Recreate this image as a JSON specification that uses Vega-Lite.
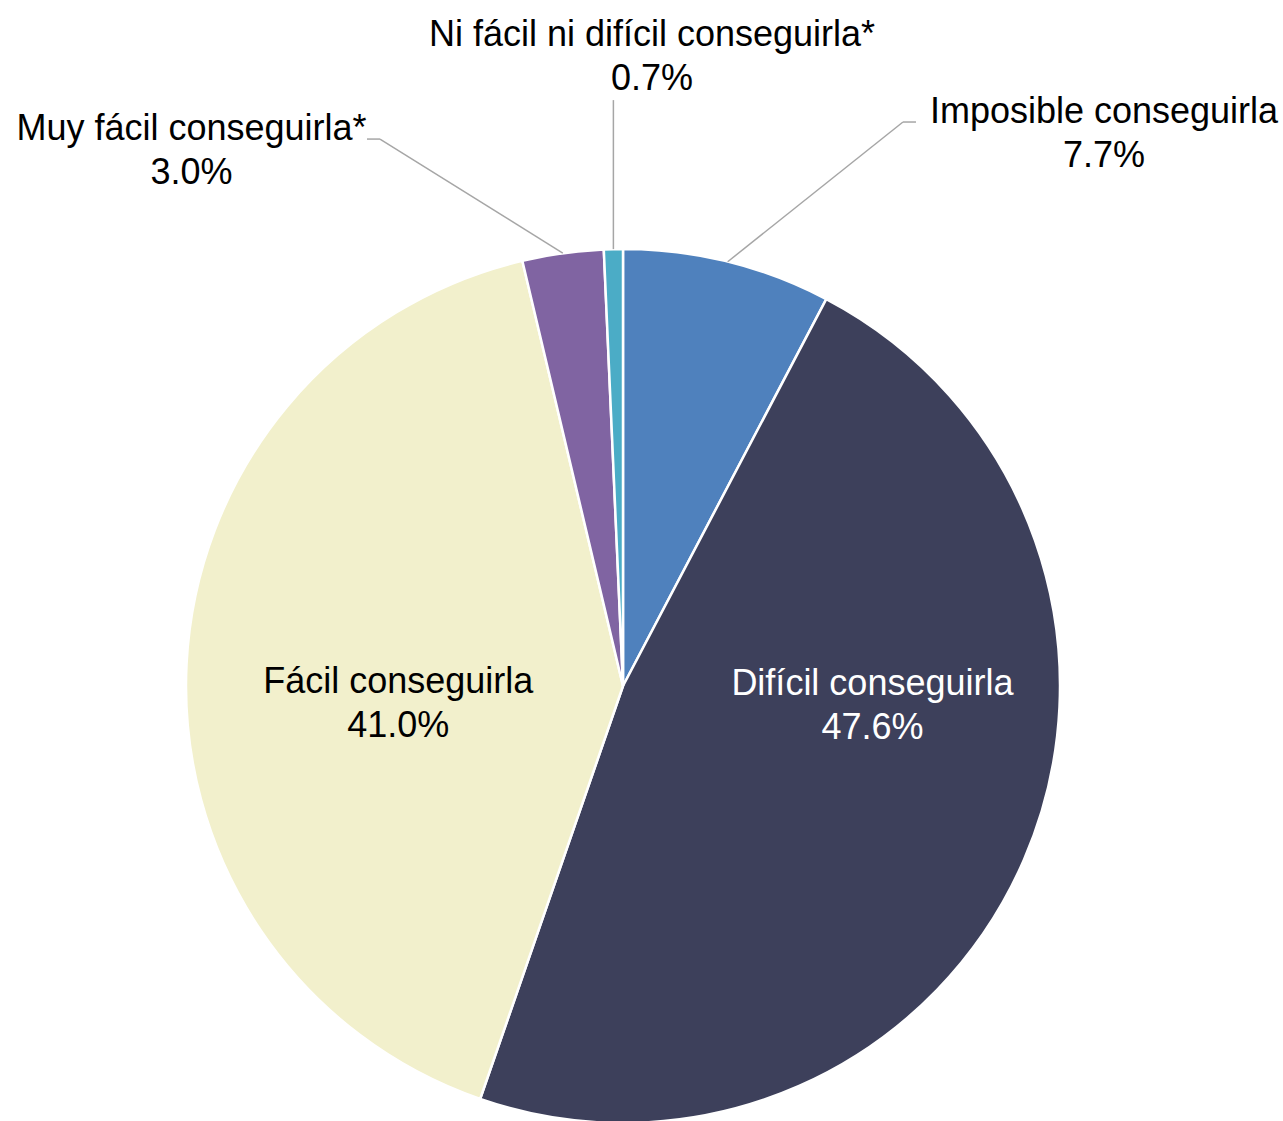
{
  "$schema": "https://vega.github.io/schema/vega-lite/v6.json",
  "width": 1246,
  "height": 870,
  "autosize": {"type": "none"},
  "padding": {"left": 0, "top": 251, "right": 37, "bottom": 0},
  "background": "white",
  "config": {"view": {"stroke": null}, "font": "Liberation Sans"},
  "data": {"values": [
    {"categoria": "Imposible conseguirla", "porcentaje": 7.7, "orden": 1},
    {"categoria": "Difícil conseguirla", "porcentaje": 47.6, "orden": 2},
    {"categoria": "Fácil conseguirla", "porcentaje": 41.0, "orden": 3},
    {"categoria": "Muy fácil conseguirla*", "porcentaje": 3.0, "orden": 4},
    {"categoria": "Ni fácil ni difícil conseguirla*", "porcentaje": 0.7, "orden": 5}
  ]},
  "transform": [
    {"stack": "porcentaje", "groupby": [], "sort": [{"field": "orden", "order": "ascending"}], "as": ["v0", "v1"]},
    {"calculate": "(datum.v0 + datum.v1) / 2", "as": "mid"},
    {"calculate": "datum.categoria + '\\n' + format(datum.porcentaje, '.1f') + '%'", "as": "etiqueta"},
    {"calculate": "437 * sin(2 * PI * datum.mid / 100)", "as": "sx"},
    {"calculate": "437 * cos(2 * PI * datum.mid / 100)", "as": "sy"}
  ],
  "layer": [
    {
      "mark": {"type": "arc", "outerRadius": 437, "stroke": "white", "strokeWidth": 2.5},
      "encoding": {
        "theta": {"field": "v0", "type": "quantitative", "scale": {"domain": [0, 100]}},
        "theta2": {"field": "v1"},
        "color": {
          "field": "categoria", "type": "nominal", "legend": null,
          "scale": {
            "domain": ["Imposible conseguirla", "Difícil conseguirla", "Fácil conseguirla", "Muy fácil conseguirla*", "Ni fácil ni difícil conseguirla*"],
            "range": ["#4f81bd", "#3d405b", "#f2f0cc", "#8064a2", "#4bacc6"]
          }
        }
      }
    },
    {
      "transform": [{"filter": "datum.orden == 2"}],
      "mark": {"type": "text", "radius": 250, "fontSize": 36, "color": "white", "lineBreak": "\n", "lineHeight": 44, "align": "center", "baseline": "middle", "dx": 20, "dy": -101},
      "encoding": {
        "theta": {"field": "mid", "type": "quantitative", "stack": null, "scale": {"domain": [0, 100]}},
        "text": {"field": "etiqueta"}
      }
    },
    {
      "transform": [{"filter": "datum.orden == 3"}],
      "mark": {"type": "text", "radius": 225, "fontSize": 36, "color": "black", "lineBreak": "\n", "lineHeight": 44, "align": "center", "baseline": "middle", "dx": 0, "dy": 7},
      "encoding": {
        "theta": {"field": "mid", "type": "quantitative", "stack": null, "scale": {"domain": [0, 100]}},
        "text": {"field": "etiqueta"}
      }
    },
    {
      "transform": [
        {"filter": "datum.orden == 1"},
        {"calculate": "datum.sx + 175.3", "as": "ex"},
        {"calculate": "datum.sy + 139.7", "as": "ey"},
        {"calculate": "datum.ex + 13", "as": "hx"}
      ],
      "layer": [
        {
          "mark": {"type": "rule", "color": "#a6a6a6", "strokeWidth": 1.5},
          "encoding": {
            "x": {"field": "sx", "type": "quantitative", "scale": {"domain": [-623, 623], "nice": false, "zero": false}, "axis": null},
            "y": {"field": "sy", "type": "quantitative", "scale": {"domain": [-435, 435], "nice": false, "zero": false}, "axis": null},
            "x2": {"field": "ex"},
            "y2": {"field": "ey"}
          }
        },
        {
          "mark": {"type": "rule", "color": "#a6a6a6", "strokeWidth": 1.5},
          "encoding": {
            "x": {"field": "ex", "type": "quantitative", "scale": {"domain": [-623, 623], "nice": false, "zero": false}, "axis": null},
            "y": {"field": "ey", "type": "quantitative", "scale": {"domain": [-435, 435], "nice": false, "zero": false}, "axis": null},
            "x2": {"field": "hx"}
          }
        },
        {
          "mark": {"type": "text", "fontSize": 36, "color": "black", "lineBreak": "\n", "lineHeight": 44, "align": "center", "baseline": "middle", "dx": 188, "dy": -10},
          "encoding": {
            "x": {"field": "hx", "type": "quantitative", "scale": {"domain": [-623, 623], "nice": false, "zero": false}, "axis": null},
            "y": {"field": "ey", "type": "quantitative", "scale": {"domain": [-435, 435], "nice": false, "zero": false}, "axis": null},
            "text": {"field": "etiqueta"}
          }
        }
      ]
    },
    {
      "transform": [
        {"filter": "datum.orden == 4"},
        {"calculate": "datum.sx - 182.8", "as": "ex"},
        {"calculate": "datum.sy + 114.1", "as": "ey"},
        {"calculate": "datum.ex - 13", "as": "hx"}
      ],
      "layer": [
        {
          "mark": {"type": "rule", "color": "#a6a6a6", "strokeWidth": 1.5},
          "encoding": {
            "x": {"field": "sx", "type": "quantitative", "scale": {"domain": [-623, 623], "nice": false, "zero": false}, "axis": null},
            "y": {"field": "sy", "type": "quantitative", "scale": {"domain": [-435, 435], "nice": false, "zero": false}, "axis": null},
            "x2": {"field": "ex"},
            "y2": {"field": "ey"}
          }
        },
        {
          "mark": {"type": "rule", "color": "#a6a6a6", "strokeWidth": 1.5},
          "encoding": {
            "x": {"field": "ex", "type": "quantitative", "scale": {"domain": [-623, 623], "nice": false, "zero": false}, "axis": null},
            "y": {"field": "ey", "type": "quantitative", "scale": {"domain": [-435, 435], "nice": false, "zero": false}, "axis": null},
            "x2": {"field": "hx"}
          }
        },
        {
          "mark": {"type": "text", "fontSize": 36, "color": "black", "lineBreak": "\n", "lineHeight": 44, "align": "center", "baseline": "middle", "dx": -175.5, "dy": -10},
          "encoding": {
            "x": {"field": "hx", "type": "quantitative", "scale": {"domain": [-623, 623], "nice": false, "zero": false}, "axis": null},
            "y": {"field": "ey", "type": "quantitative", "scale": {"domain": [-435, 435], "nice": false, "zero": false}, "axis": null},
            "text": {"field": "etiqueta"}
          }
        }
      ]
    },
    {
      "transform": [
        {"filter": "datum.orden == 5"},
        {"calculate": "datum.sx", "as": "ex"},
        {"calculate": "datum.sy + 149", "as": "ey"}
      ],
      "layer": [
        {
          "mark": {"type": "rule", "color": "#a6a6a6", "strokeWidth": 1.5},
          "encoding": {
            "x": {"field": "sx", "type": "quantitative", "scale": {"domain": [-623, 623], "nice": false, "zero": false}, "axis": null},
            "y": {"field": "sy", "type": "quantitative", "scale": {"domain": [-435, 435], "nice": false, "zero": false}, "axis": null},
            "x2": {"field": "ex"},
            "y2": {"field": "ey"}
          }
        },
        {
          "mark": {"type": "text", "fontSize": 36, "color": "black", "lineBreak": "\n", "lineHeight": 44, "align": "center", "baseline": "middle", "dx": 38.6, "dy": -65},
          "encoding": {
            "x": {"field": "ex", "type": "quantitative", "scale": {"domain": [-623, 623], "nice": false, "zero": false}, "axis": null},
            "y": {"field": "ey", "type": "quantitative", "scale": {"domain": [-435, 435], "nice": false, "zero": false}, "axis": null},
            "text": {"field": "etiqueta"}
          }
        }
      ]
    }
  ]
}
